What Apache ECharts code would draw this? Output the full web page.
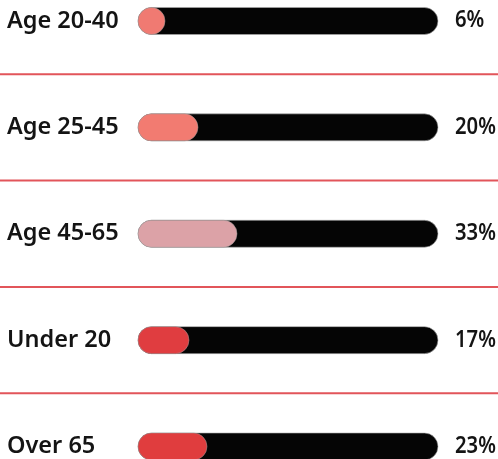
<!DOCTYPE html>
<html>
<head>
<meta charset="utf-8">
<script src="https://cdn.jsdelivr.net/npm/echarts@6/dist/echarts.min.js"></script>
<style>
html,body{margin:0;padding:0;background:#fff;}
#chart{width:498px;height:459px;}
</style>
</head>
<body>
<div id="chart"></div>
<script>
var categories = ['Age 20-40', 'Age 25-45', 'Age 45-65', 'Under 20', 'Over 65'];
var values = [6, 20, 33, 17, 23];
var fillColors = ['#f07a72', '#f27b71', '#dca2a7', '#e03d40', '#e03d3e'];
var rowIndex = [0, 1, 2, 3, 4];
var separators = [0.5, 1.5, 2.5, 3.5];

var chart = echarts.init(document.getElementById('chart'));
var BAR_H = 27;
var LABEL_FONT = {fontFamily: 'Noto Sans', fontWeight: 600, fontSize: 23.5, fill: '#141414'};
var PCT_FONT = {fontFamily: 'Noto Sans', fontWeight: 600, fontSize: 22.5, fill: '#141414'};
var PCT_SCALE_X = 0.9;
var TRACK_MAX = 100;

chart.setOption({
  animation: false,
  grid: {left: 0, right: 0, top: 0, bottom: 0},
  xAxis: {type: 'value', min: -46, max: 120, show: false},
  yAxis: {type: 'value', min: -0.1974, max: 4.1175, inverse: true, show: false},
  series: [
    {
      type: 'custom', silent: true,
      data: rowIndex.map(function (i) { return [values[i], i]; }),
      encode: {x: 0, y: 1},
      renderItem: function (params, api) {
        var i = api.value(1);
        var p0 = api.coord([0, i]);
        var pEnd = api.coord([TRACK_MAX, i]);
        var p1 = api.coord([api.value(0), i]);
        var w = Math.max(p1[0] - p0[0], BAR_H);
        var cs = params.coordSys;
        return {
          type: 'group',
          children: [
            {type: 'rect', shape: {x: p0[0], y: p0[1] - BAR_H / 2, width: pEnd[0] - p0[0], height: BAR_H, r: BAR_H / 2},
             style: {fill: '#050505', stroke: '#b0b0b0', lineWidth: 0.6}},
            {type: 'rect', shape: {x: p0[0], y: p0[1] - BAR_H / 2, width: w, height: BAR_H, r: BAR_H / 2},
             style: {fill: fillColors[params.dataIndex], stroke: '#9a9a9a', lineWidth: 0.5}},
            {type: 'text', x: cs.x + 7, y: p0[1],
             style: {text: categories[params.dataIndex], fontFamily: LABEL_FONT.fontFamily, fontWeight: LABEL_FONT.fontWeight,
                     fontSize: LABEL_FONT.fontSize, fill: LABEL_FONT.fill, align: 'left', verticalAlign: 'middle'}},
            {type: 'text', x: pEnd[0] + 17, y: p0[1], scaleX: PCT_SCALE_X,
             style: {text: api.value(0) + '%', fontFamily: PCT_FONT.fontFamily, fontWeight: PCT_FONT.fontWeight,
                     fontSize: PCT_FONT.fontSize, fill: PCT_FONT.fill, align: 'left', verticalAlign: 'middle'}}
          ]
        };
      }
    },
    {
      type: 'custom', silent: true,
      data: separators.map(function (s) { return [0, s]; }),
      encode: {x: 0, y: 1},
      renderItem: function (params, api) {
        var p = api.coord([0, api.value(1)]);
        var cs = params.coordSys;
        return {type: 'line', shape: {x1: cs.x, y1: p[1], x2: cs.x + cs.width, y2: p[1]},
                style: {stroke: '#e2555a', lineWidth: 2}};
      }
    }
  ]
});
</script>
</body>
</html>
